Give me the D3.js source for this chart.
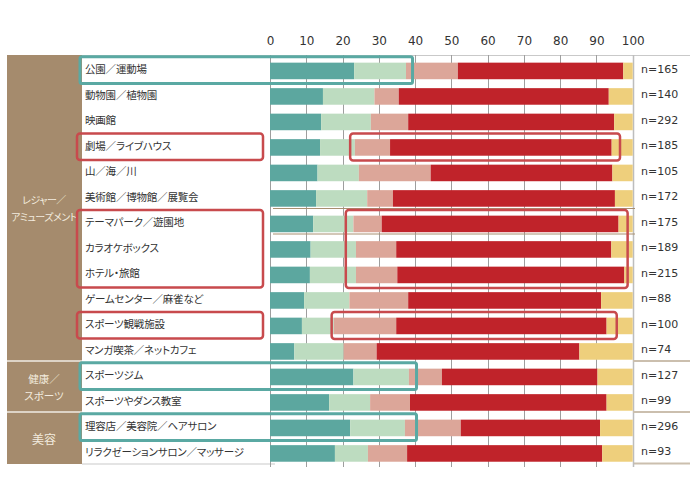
<!DOCTYPE html>
<html><head><meta charset="utf-8">
<script src="https://cdn.jsdelivr.net/npm/d3@7/dist/d3.min.js"></script>
<style>body{margin:0;background:#fff;} svg{display:block;} .jp{font-feature-settings:"palt" 1;}</style>
</head><body>
<svg id="c" width="690" height="496"></svg>
<script>
const categories = ["公園／運動場","動物園／植物園","映画館","劇場／ライブハウス","山／海／川","美術館／博物館／展覧会","テーマパーク／遊園地","カラオケボックス","ホテル・旅館","ゲームセンター／麻雀など","スポーツ観戦施設","マンガ喫茶／ネットカフェ","スポーツジム","スポーツやダンス教室","理容店／美容院／ヘアサロン","リラクゼーションサロン／マッサージ"];
const seriesTeal   = [23.2,14.6,14.1,13.8,13.1,12.7,11.9,11.2,11.0,9.4,8.8,6.7,23.0,16.3,22.1,17.9];
const seriesLight  = [14.3,14.2,13.7,9.6,11.4,14.1,11.1,12.5,12.7,12.5,8.8,13.6,15.3,11.3,15.1,9.1];
const seriesSalmon = [14.3,6.7,10.3,9.7,19.8,7.1,7.8,11.1,11.4,16.2,17.2,9.1,9.1,11.0,15.4,10.8];
const seriesRed    = [45.6,57.9,56.8,61.1,50.1,61.2,65.3,59.3,62.6,53.2,58.0,55.9,42.9,54.2,38.4,53.8];
const seriesYellow = [2.6,6.6,5.1,5.8,5.6,4.9,3.9,5.9,2.3,8.7,7.2,14.7,9.7,7.2,9.0,8.4];
const nLabels = ["n=165","n=140","n=292","n=185","n=105","n=172","n=175","n=189","n=215","n=88","n=100","n=74","n=127","n=99","n=296","n=93"];
const tickValues = [0,10,20,30,40,50,60,70,80,90,100];
const groupNames = [["レジャー／","アミューズメント"],["健康／","スポーツ"],["美容"]];
const groupSizes = [12,2,2];
// highlight annotations: [rowStart,rowEnd,valueFrom,valueTo]
const tealBoxes = [[0,0,39.3],[12,12,40.4],[14,14,40.4]];
const redLabelBoxes = [[3,3],[6,8],[10,10]];
const redBarBoxes = [[3,3,22.1,96.5],[6,8,20.9,98.6],[10,10,17.0,95.6]];

const seriesList = [seriesTeal, seriesLight, seriesSalmon, seriesRed, seriesYellow];
const colors = ["#5ca79f","#bddcc0","#dca699","#c0232a","#eecf7c"];
const groupFont = [10,10.5,12];

const svg = d3.select("#c");
const x = d3.scaleLinear().domain([0,100]).range([270,632.7]);
const y = d3.scaleBand().domain(d3.range(categories.length)).range([55,463]);
const step = y.step();

svg.append("rect").attr("x",7).attr("y",55).attr("width",75).attr("height",409).attr("fill","#a58b6d");

svg.append("line").attr("x1",82).attr("x2",690).attr("y1",55.5).attr("y2",55.5).attr("stroke","#c9c9c9");
svg.append("line").attr("x1",82).attr("x2",275).attr("y1",464).attr("y2",464).attr("stroke","#c9c9c9");
svg.append("line").attr("x1",633).attr("x2",690).attr("y1",463.5).attr("y2",463.5).attr("stroke","#cbbfae").attr("stroke-width",2);

svg.append("g").selectAll("line").data(tickValues).join("line")
  .attr("x1",d=>Math.round(x(d))+0.5).attr("x2",d=>Math.round(x(d))+0.5)
  .attr("y1",55).attr("y2",467).attr("stroke",d=>d===100?"#bdbdbd":"#9e9e9e").attr("stroke-width",d=>d===100?1.5:1);

const stacked = categories.map((c,i)=>{let acc=0;return seriesList.map((s,k)=>{const a=acc;acc+=s[i];return {i,k,a,b:acc};});}).flat();
svg.append("g").selectAll("rect").data(stacked).join("rect")
  .attr("x",d=>x(d.a)).attr("width",d=>x(d.b)-x(d.a))
  .attr("y",d=>y(d.i)+step*0.3).attr("height",step*0.65)
  .attr("fill",d=>colors[d.k]);

[6,7].forEach(r=>{
  svg.append("line").attr("x1",273).attr("x2",635).attr("y1",y(r)+0.5).attr("y2",y(r)+0.5).attr("stroke","#a88f70").attr("stroke-width",1);
});

const ax = svg.append("g").attr("transform","translate(0,47)").call(d3.axisTop(x).tickValues(tickValues).tickSize(0).tickPadding(2));
ax.select(".domain").remove();
ax.selectAll("text").attr("font-family","DejaVu Sans, sans-serif").attr("font-size",12).attr("fill","#333");

svg.append("g").selectAll("text").data(categories).join("text")
  .attr("class","jp")
  .attr("x",85).attr("y",(d,i)=>y(i)+step/2+1)
  .attr("dominant-baseline","central")
  .attr("font-family","'Noto Sans CJK JP', sans-serif").attr("font-size",10.5).attr("letter-spacing",-0.2).attr("fill","#333")
  .text(d=>d);

svg.append("g").selectAll("text").data(nLabels).join("text")
  .attr("x",641).attr("y",(d,i)=>y(i)+step/2+1.5)
  .attr("dominant-baseline","central")
  .attr("font-family","DejaVu Sans, sans-serif").attr("font-size",11).attr("fill","#333")
  .text(d=>d);

let start=0;
groupSizes.forEach((n,g)=>{
  const top=y(start), bot=start+n>=categories.length?464:y(start+n);
  const cy=(top+bot)/2;
  const lines=groupNames[g];
  const t=svg.append("text").attr("class","jp").attr("x",44).attr("text-anchor","middle")
    .attr("font-family","'Noto Sans CJK JP', sans-serif").attr("font-size",groupFont[g]).attr("letter-spacing",g===0?-0.5:0).attr("fill","#f3ebdf");
  lines.forEach((l,j)=>{
    t.append("tspan").attr("x",44).attr("y",cy+(j-(lines.length-1)/2)*17).attr("dominant-baseline","central").text(l);
  });
  if(start>0){
    svg.append("line").attr("x1",7).attr("x2",82).attr("y1",top).attr("y2",top).attr("stroke","#ddd3c6").attr("stroke-width",2);
    svg.append("line").attr("x1",633).attr("x2",690).attr("y1",top).attr("y2",top).attr("stroke","#cbbfae").attr("stroke-width",2);
  }
  start+=n;
});

svg.append("g").selectAll("rect").data(tealBoxes).join("rect")
  .attr("x",80).attr("y",d=>y(d[0])+1.8)
  .attr("width",d=>x(d[2])-80).attr("height",d=>y(d[1])+step+1.2-y(d[0]))
  .attr("rx",2).attr("fill","none").attr("stroke","#5aa9a3").attr("stroke-width",3);

svg.append("g").selectAll("rect").data(redLabelBoxes).join("rect")
  .attr("x",77).attr("y",d=>y(d[0])+2)
  .attr("width",186).attr("height",d=>y(d[1])+step+1-y(d[0]))
  .attr("rx",3).attr("fill","none").attr("stroke","#c84a4d").attr("stroke-width",2.5);

svg.append("g").selectAll("rect").data(redBarBoxes).join("rect")
  .attr("x",d=>x(d[2])).attr("y",d=>y(d[0])+2)
  .attr("width",d=>x(d[3])-x(d[2])).attr("height",d=>y(d[1])+step+1.5-y(d[0]))
  .attr("rx",3).attr("fill","none").attr("stroke","#c84a4d").attr("stroke-width",2.5);
</script>
</body></html>
